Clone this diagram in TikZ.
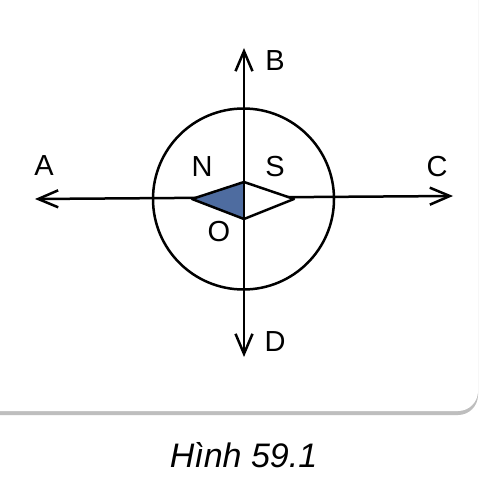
\documentclass[tikz,border=0pt]{standalone}
\usepackage{fontspec}
\setmainfont{Liberation Sans}
\usetikzlibrary{arrows.meta}
\definecolor{needleblue}{RGB}{78,108,160}
\definecolor{shadowgray}{RGB}{190,190,190}
\tikzset{
  axis/.style={line width=2.5pt, {Straight Barb[length=20pt,width=17pt,line width=2.5pt]}-{Straight Barb[length=20pt,width=17pt,line width=2.5pt]}},
  lbl/.style={inner sep=0pt, font=\fontsize{29}{31}\selectfont},
  captiontext/.style={inner sep=0pt, font=\fontsize{34}{37}\selectfont\itshape},
  ring/.style={line width=2.5pt},
  needle/.style={line width=2.5pt, line join=round}
}
\begin{document}
\begin{tikzpicture}[x=1pt,y=-1pt]
\useasboundingbox (0,0) rectangle (485,489);
\fill[white] (0,0) rectangle (485,489);
% card with shadow
\fill[shadowgray, rounded corners=20pt] (-20,-20) rectangle (478,415);
\fill[white, rounded corners=20pt] (-20,-20) rectangle (478,411);
% circle
\node[ring, draw, circle, minimum size=181pt, inner sep=0pt] (ring) at (243.5,199) {};
% needle points
\coordinate (nl) at (192,199);
\coordinate (nt) at (244,182);
\coordinate (nr) at (294,199);
\coordinate (nb) at (244,219);
% axes
\coordinate (Atip) at (35,199);
\coordinate (Ctip) at (453,196);
\coordinate (Btip) at (244,48);
\coordinate (Dtip) at (244,357);
\draw[axis] (Atip) -- (Ctip);
\draw[axis] (Btip) -- (Dtip);
% needle on top
\fill[needleblue] (nl) -- (nt) -- (nb) -- cycle;
\fill[white] (nt) -- (nr) -- (nb) -- cycle;
\draw[needle] (nl) -- (nt) -- (nr) -- (nb) -- cycle;
\draw[needle] (nt) -- (nb);
% labels
\node[lbl] (A) at (44,166) {A};
\node[lbl] (B) at (275,61) {B};
\node[lbl] (C) at (437,167) {C};
\node[lbl] (D) at (275,342) {D};
\node[lbl] (N) at (202,167) {N};
\node[lbl] (S) at (275,167) {S};
\node[lbl] (O) at (219,232) {O};
\node[captiontext] (title) at (243.5,455) {Hình 59.1};
\end{tikzpicture}
\end{document}
